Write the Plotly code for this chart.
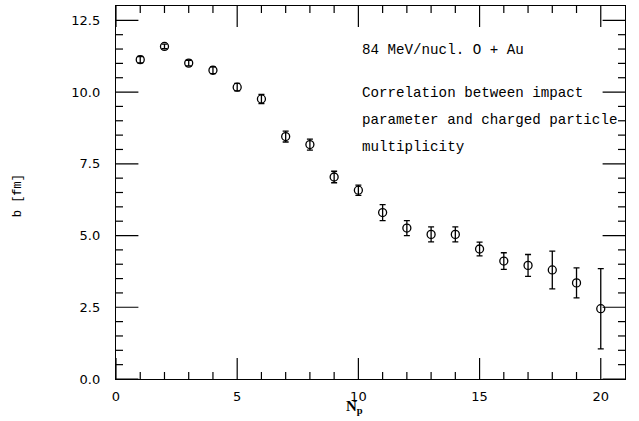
import plotly.graph_objects as go

# Data
n_p = [1, 2, 3, 4, 5, 6, 7, 8, 9, 10, 11, 12, 13, 14, 15, 16, 17, 18, 19, 20]
b_fm = [11.13, 11.59, 11.01, 10.76, 10.17, 9.76, 8.45, 8.17, 7.04, 6.58,
        5.80, 5.26, 5.04, 5.04, 4.53, 4.11, 3.96, 3.80, 3.35, 2.45]
b_err = [0.11, 0.08, 0.10, 0.12, 0.13, 0.16, 0.19, 0.19, 0.20, 0.18,
         0.28, 0.26, 0.26, 0.26, 0.24, 0.29, 0.38, 0.66, 0.52, 1.40]

notes = [
    '84 MeV/nucl. O + Au',
    'Correlation between impact',
    'parameter and charged particle',
    'multiplicity',
]
note_y = [11.45, 9.97, 9.03, 8.10]

# Axis ranges and tick positions (major labelled, minor unlabelled)
x_range = [0, 21]
y_range = [0, 13]
x_major = [0, 5, 10, 15, 20]
x_minor = [v for v in range(0, 21) if v not in x_major]
y_major = [0.0, 2.5, 5.0, 7.5, 10.0, 12.5]
y_minor = [k * 0.5 for k in range(0, 26) if k * 0.5 not in y_major]

MONO = 'Liberation Mono'
SANS = 'DejaVu Sans'

fig = go.Figure()

# Inward ticks on all four sides: plotly's inside ticks do not show in the
# renderer, so use line markers sitting on the frame, clipped to the plot
# area so only the inner half remains
def add_ticks(xs, ys, symbol, size):
    fig.add_trace(go.Scatter(
        x=xs, y=ys, mode='markers', cliponaxis=True, hoverinfo='skip',
        marker={'symbol': symbol, 'size': size, 'color': 'black',
                'line': {'width': 1.2, 'color': 'black'}},
        showlegend=False,
    ))

for ticks, size in ((x_major, 30), (x_minor, 10)):
    for edge in y_range:
        add_ticks(ticks, [edge] * len(ticks), 'line-ns', size)
for ticks, size in ((y_major, 32), (y_minor, 10)):
    for edge in x_range:
        add_ticks([edge] * len(ticks), ticks, 'line-ew', size)

fig.add_trace(go.Scatter(
    x=n_p, y=b_fm, mode='markers',
    marker={'symbol': 'circle-open', 'size': 8, 'color': 'black',
            'line': {'width': 1.3, 'color': 'black'}},
    error_y={'type': 'data', 'array': b_err, 'visible': True,
             'color': 'black', 'thickness': 1.3, 'width': 3},
    showlegend=False,
))

for text, y in zip(notes, note_y):
    fig.add_annotation(x=10.05, y=y, text=text, showarrow=False,
                       xanchor='left', yanchor='middle',
                       font={'family': MONO, 'size': 14.2, 'color': 'black'})

# Axis titles placed by hand (as in the original)
fig.add_annotation(x=9.85, y=-0.075, xref='x', yref='paper',
                   text='<b>N<sub>p</sub></b>', showarrow=False,
                   xanchor='center', yanchor='middle',
                   font={'family': 'Liberation Serif', 'size': 15,
                         'color': 'black'})
fig.add_annotation(x=0, y=0.49, xref='paper', yref='paper',
                   text='b [fm]', showarrow=False, textangle=-90,
                   xanchor='center', yanchor='middle', xshift=-98,
                   font={'family': MONO, 'size': 12, 'color': 'black'})

axis_style = {
    # Frame around plot
    'showline': True, 'linewidth': 1.3, 'linecolor': 'black',
    'mirror': True, 'ticks': '',
    'showgrid': False, 'zeroline': False, 'automargin': False,
    'tickfont': {'family': SANS, 'size': 13, 'color': 'black'},
}

fig.update_xaxes(range=x_range, tickvals=x_major, ticklabelstandoff=5,
                 **axis_style)
fig.update_yaxes(range=y_range, tickvals=y_major, tickformat='.1f',
                 ticklabelstandoff=12, **axis_style)

fig.update_layout(
    width=639, height=421,
    margin={'l': 116, 'r': 14, 't': 6, 'b': 42},
    plot_bgcolor='white', paper_bgcolor='white',
    showlegend=False,
)

# the page's default body margin would shift the figure by 8px
fig.write_html('out.html', config={'displayModeBar': False},
               post_script="document.body.style.margin='0';")
